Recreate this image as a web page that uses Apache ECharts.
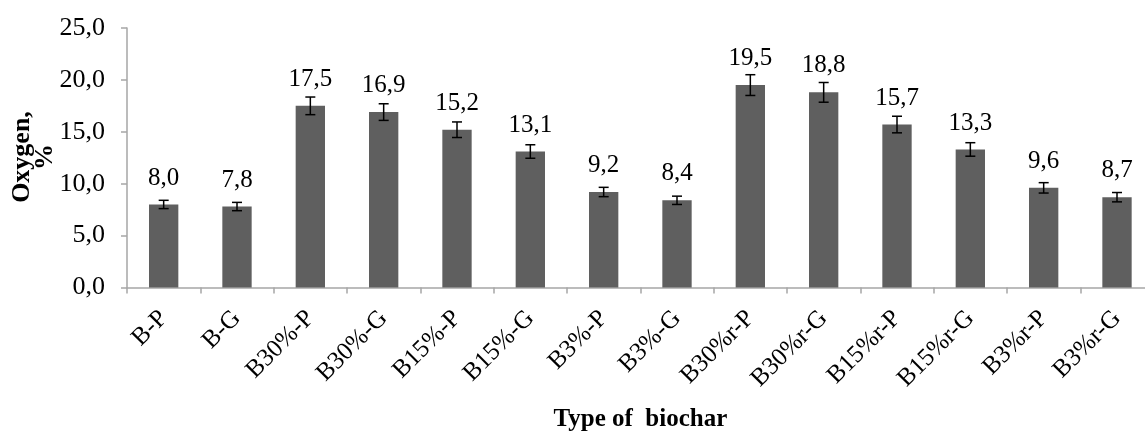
<!DOCTYPE html>
<html>
<head>
<meta charset="utf-8">
<script src="https://cdn.jsdelivr.net/npm/echarts@6/dist/echarts.min.js"></script>
<style>
html,body{margin:0;padding:0;background:#fff;}
#chart{width:1145px;height:434px;}
</style>
</head>
<body>
<div id="chart"></div>
<script>
const categories = ['B-P','B-G','B30%-P','B30%-G','B15%-P','B15%-G','B3%-P','B3%-G','B30%r-P','B30%r-G','B15%r-P','B15%r-G','B3%r-P','B3%r-G'];
const oxygen = [8.0, 7.8, 17.5, 16.9, 15.2, 13.1, 9.2, 8.4, 19.5, 18.8, 15.7, 13.3, 9.6, 8.7];
const errors = [0.4, 0.4, 0.85, 0.8, 0.75, 0.65, 0.45, 0.4, 1.0, 0.95, 0.8, 0.65, 0.5, 0.45];
const yTicks = [0, 5, 10, 15, 20, 25];

const FONT = "'Liberation Serif', 'Times New Roman', serif";
const fmt = v => v.toFixed(1).replace('.', ',');

const chart = echarts.init(document.getElementById('chart'), null, {renderer: 'canvas'});
chart.setOption({
  animation: false,
  backgroundColor: '#ffffff',
  grid: {left: 127, top: 28, width: 1026.67, height: 259.5, containLabel: false, outerBoundsMode: 'none'},
  xAxis: {
    type: 'category',
    data: categories,
    axisLine: {lineStyle: {color: '#a6a6a6', width: 1.5}},
    axisTick: {show: true, length: 6, lineStyle: {color: '#a6a6a6', width: 1.5}},
    axisLabel: {rotate: 45, margin: 27, color: '#000', fontFamily: FONT, fontSize: 25, interval: 0},
    name: 'Type of  biochar',
    nameLocation: 'middle',
    nameGap: 120,
    nameTextStyle: {fontFamily: FONT, fontWeight: 'bold', fontSize: 25, color: '#000'}
  },
  yAxis: {
    type: 'value',
    min: yTicks[0],
    max: yTicks[yTicks.length - 1],
    interval: 5,
    axisLine: {show: true, lineStyle: {color: '#a6a6a6', width: 1.5}},
    axisTick: {show: true, length: 6, lineStyle: {color: '#a6a6a6', width: 1.5}},
    splitLine: {show: false},
    axisLabel: {margin: 22, color: '#000', fontFamily: FONT, fontSize: 26, formatter: v => fmt(v)}
  },
  graphic: [{
    type: 'text',
    rotation: Math.PI / 2,
    x: 33.5, y: 157,
    style: {
      text: 'Oxygen,\n%',
      font: "bold 26px " + FONT,
      fill: '#000',
      textAlign: 'center',
      textVerticalAlign: 'middle',
      lineHeight: 23
    }
  }],
  series: [{
    type: 'bar',
    data: oxygen,
    barWidth: '40%',
    itemStyle: {color: '#5f5f5f'},
    label: {
      show: true,
      position: 'top',
      distance: 14,
      color: '#000',
      fontFamily: FONT,
      fontSize: 25,
      formatter: p => fmt(p.value)
    }
  }, {
    type: 'custom',
    data: oxygen.map((v, i) => [i, v - errors[i], v + errors[i]]),
    z: 10,
    renderItem: function (params, api) {
      const lo = api.coord([api.value(0), api.value(1)]);
      const hi = api.coord([api.value(0), api.value(2)]);
      const hw = 5;
      const st = {stroke: '#000', lineWidth: 1.5};
      return {
        type: 'group',
        children: [
          {type: 'line', shape: {x1: hi[0], y1: hi[1], x2: lo[0], y2: lo[1]}, style: st},
          {type: 'line', shape: {x1: hi[0] - hw, y1: hi[1], x2: hi[0] + hw, y2: hi[1]}, style: st},
          {type: 'line', shape: {x1: lo[0] - hw, y1: lo[1], x2: lo[0] + hw, y2: lo[1]}, style: st}
        ]
      };
    }
  }]
});
</script>
</body>
</html>
